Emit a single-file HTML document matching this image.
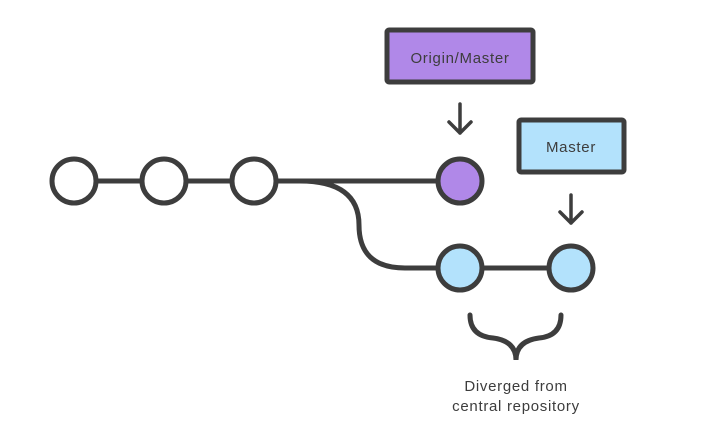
<!DOCTYPE html>
<html><head><style>body{margin:0;background:#fff}svg{display:block}</style></head><body>
<svg width="712" height="424" viewBox="0 0 712 424" xmlns="http://www.w3.org/2000/svg">
<g fill="none" stroke="#3d3d3d" stroke-width="5" stroke-linecap="round">
<line x1="96" y1="181" x2="142" y2="181"/>
<line x1="186" y1="181" x2="232" y2="181"/>
<line x1="276" y1="181" x2="438" y2="181"/>
<path d="M300 181 Q359 181 359 225 Q359 268 405 268 L438 268"/>
<line x1="482" y1="268" x2="549" y2="268"/>
<path d="M470 315 Q470 336 493 338 Q516 341 516 360 Q516 341 539 338 Q561 336 561 315"/>
</g>
<g fill="none" stroke="#3d3d3d" stroke-width="3.5" stroke-linecap="round" stroke-linejoin="round">
<path d="M460 104 V133 M449 122 L460 133 L471 122"/>
<path d="M571 195 V223 M560 212 L571 223 L582 212"/>
</g>
<g stroke="#3d3d3d" stroke-width="5">
<circle cx="74" cy="181" r="22" fill="#fff"/>
<circle cx="164" cy="181" r="22" fill="#fff"/>
<circle cx="254" cy="181" r="22" fill="#fff"/>
<circle cx="460" cy="181" r="22" fill="#b088e8"/>
<circle cx="460" cy="268" r="22" fill="#b3e2fc"/>
<circle cx="571" cy="268" r="22" fill="#b3e2fc"/>
<rect x="387" y="30" width="146" height="52" rx="2" fill="#b088e8"/>
<rect x="519" y="120" width="105" height="52" rx="2" fill="#b3e2fc"/>
</g>
<g font-family="Liberation Sans, sans-serif" font-size="15" fill="#3d3d3d" text-anchor="middle" letter-spacing="0.7">
<text x="460" y="63">Origin/Master</text>
<text x="571" y="152">Master</text>
<text x="516" y="391">Diverged from</text>
<text x="516" y="411">central repository</text>
</g>
</svg>
</body></html>
